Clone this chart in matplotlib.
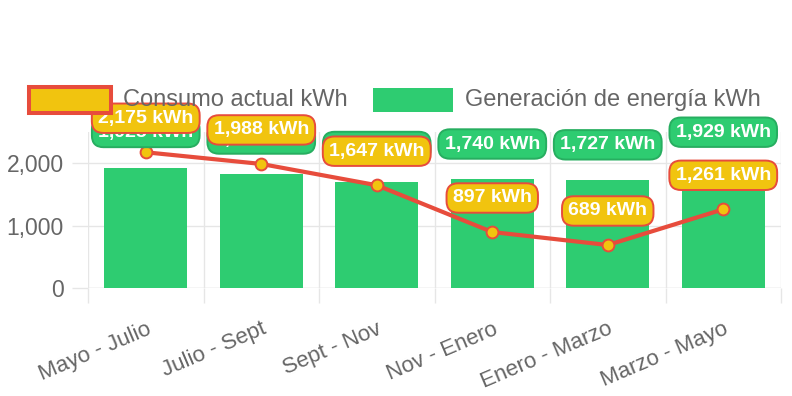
import numpy as np
import matplotlib
matplotlib.use("Agg")
import matplotlib.pyplot as plt
from matplotlib.patches import Rectangle

categories = ["Mayo - Julio", "Julio - Sept", "Sept - Nov", "Nov - Enero", "Enero - Marzo", "Marzo - Mayo"]
generacion = [1925, 1820, 1700, 1740, 1727, 1929]
consumo = [2175, 1988, 1647, 897, 689, 1261]
yticks = [0, 1000, 2000]

GREEN = "#2ecc71"
GREEN_DARK = "#27ae60"
YELLOW = "#f1c40f"
RED = "#e74c3c"
GRID = "#e6e6e6"
TEXT = "#666666"

plt.rcParams['font.family'] = ['Liberation Sans', 'DejaVu Sans']

W, H = 792, 396
fig = plt.figure(figsize=(W / 100, H / 100), dpi=100)
L, R, T, B = 88, 781, 132, 288
ax = fig.add_axes([L / W, 1 - B / H, (R - L) / W, (B - T) / H])

x = np.arange(len(categories))
ax.bar(x, generacion, width=0.72, color=GREEN, zorder=2)
ax.plot(x, consumo, color=RED, lw=3.0, marker='o', markersize=8.5,
        markerfacecolor=YELLOW, markeredgecolor=RED, markeredgewidth=1.4, zorder=3)

ax.set_xlim(-0.5, len(categories) - 0.5)
ax.set_ylim(0, 2500)

for s in ax.spines.values():
    s.set_visible(False)

ax.set_yticks(yticks)
ax.set_yticklabels([f"{v:,}" for v in yticks])
ax.set_xticks(x)
ax.set_xticklabels(categories, rotation=23, ha='right', rotation_mode='anchor')
ax.set_xticks(np.arange(-0.5, len(categories), 1.0), minor=True)
ax.tick_params(axis='x', which='major', length=0, pad=22, labelsize=16, labelcolor=TEXT)
ax.tick_params(axis='x', which='minor', length=11, width=1, color=GRID)
ax.tick_params(axis='y', which='major', length=11.5, width=1, color=GRID, pad=6,
               labelsize=16.5, labelcolor=TEXT)

ax.grid(False)
for v in yticks:
    ax.axhline(v, color="#cfcfcf" if v == 0 else GRID, lw=1, zorder=1)
for b in np.arange(-0.5, len(categories), 1.0):
    ax.axvline(b, color=GRID, lw=1, zorder=1)

# data labels
for xi, v in zip(x, generacion):
    ax.annotate(f"{v:,} kWh", (xi, v), xytext=(0, 25.5), textcoords='offset points',
                ha='center', va='center', fontsize=14, fontweight='bold', color='white',
                annotation_clip=False, zorder=4,
                bbox=dict(boxstyle='round,pad=0.32,rounding_size=0.6', fc=GREEN,
                          ec=GREEN_DARK, lw=1.4))
for xi, v in zip(x, consumo):
    ax.annotate(f"{v:,} kWh", (xi, v), xytext=(0, 24.5), textcoords='offset points',
                ha='center', va='center', fontsize=14, fontweight='bold', color='white',
                annotation_clip=False, zorder=5,
                bbox=dict(boxstyle='round,pad=0.32,rounding_size=0.6', fc=YELLOW,
                          ec=RED, lw=1.4))

# legend
def fx(px):
    return px / W

def fy(py):
    return 1 - py / H

fig.patches.append(Rectangle((fx(29), fy(113)), fx(111) - fx(29), fy(87) - fy(113),
                             transform=fig.transFigure, fc=YELLOW, ec=RED, lw=2.9))
fig.text(fx(123), fy(100), "Consumo actual kWh", ha='left', va='center',
         fontsize=17, color=TEXT)
fig.patches.append(Rectangle((fx(373), fy(112)), fx(453) - fx(373), fy(88) - fy(112),
                             transform=fig.transFigure, fc=GREEN, ec='none'))
fig.text(fx(465), fy(100), "Generación de energía kWh", ha='left', va='center',
         fontsize=17, color=TEXT)

fig.savefig("out.png", dpi=100)
